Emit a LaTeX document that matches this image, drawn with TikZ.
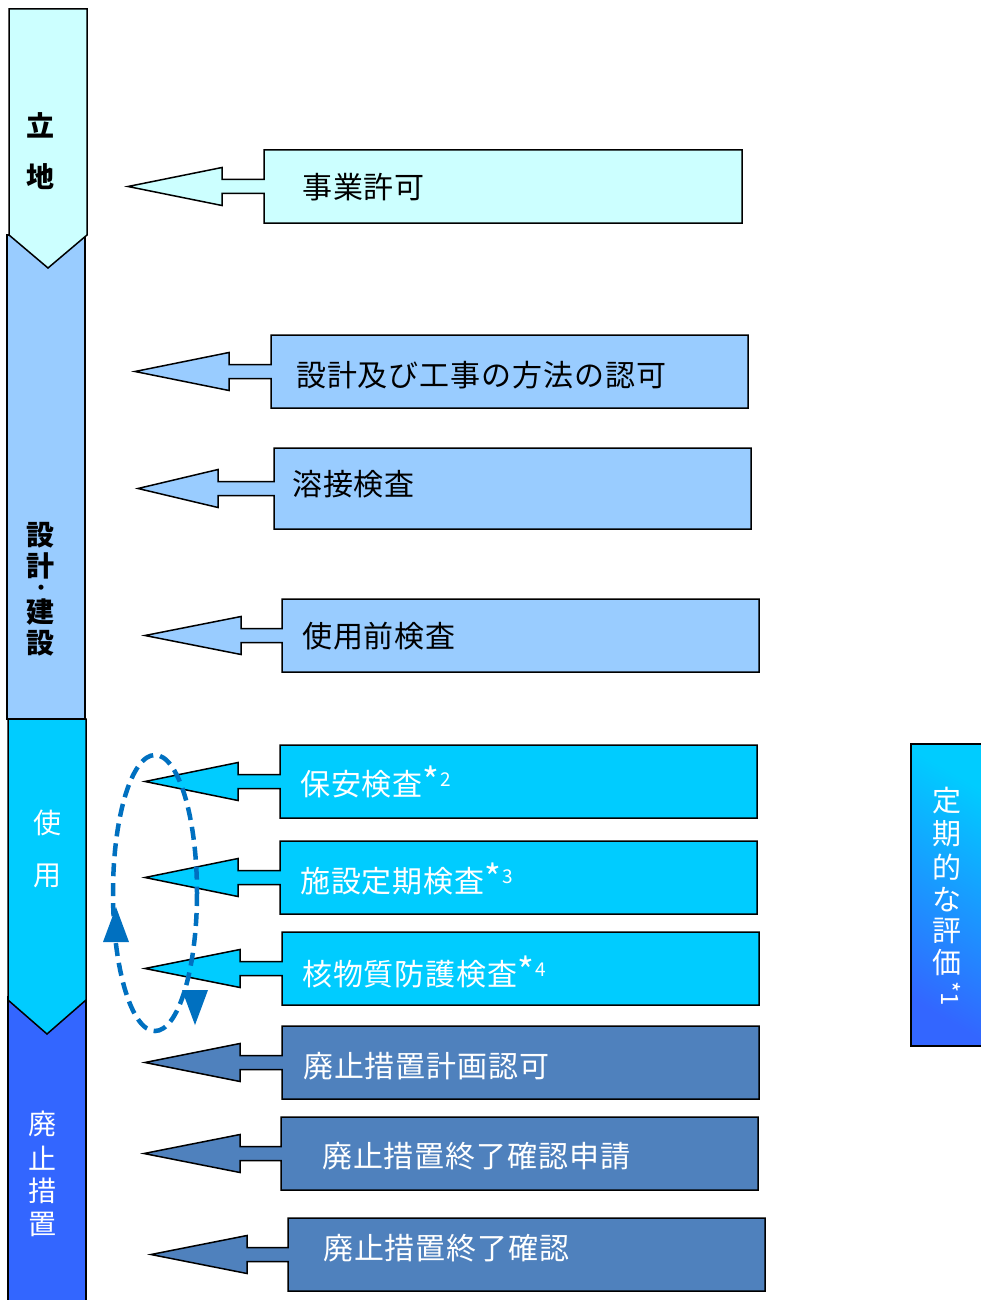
\documentclass[tikz,border=0pt]{standalone}
\usepackage{fontspec}
\setmainfont{Noto Sans CJK JP}
\newfontfamily\lblfont[LetterSpace=3]{Noto Sans CJK JP}
\usepackage{graphicx}
\definecolor{cRitchi}{HTML}{CCFFFF}
\definecolor{cSekkei}{HTML}{99CCFF}
\definecolor{cShiyo}{HTML}{00CCFF}
\definecolor{cHaishi}{HTML}{3366FF}
\definecolor{cHaiArr}{HTML}{4F81BD}
\definecolor{cLoop}{HTML}{0070C0}
\tikzset{
  outl/.style={draw=black, line width=1.5pt, line join=miter},
  lbl/.style={anchor=west, inner sep=0pt, font=\lblfont\fontsize{30}{32}\selectfont},
  stg/.style={inner sep=0pt, font=\fontsize{28}{30}\selectfont},
}
% #1 style, #2 left x, #3 top y, #4 right x, #5 bottom y, #6 tip x, #7 head base x
\newcommand\callout[7]{%
  \draw[outl,#1] (#2,#3) -- (#4,#3) -- (#4,#5) -- (#2,#5)
    -- (#2,{(#3+#5)/2+7}) -- (#7,{(#3+#5)/2+7}) -- (#7,{(#3+#5)/2+19})
    -- (#6,{(#3+#5)/2}) -- (#7,{(#3+#5)/2-19}) -- (#7,{(#3+#5)/2-7})
    -- (#2,{(#3+#5)/2-7}) -- cycle;}
\newcommand\sstar[1]{\raisebox{1pt}{\fontsize{36}{36}\selectfont *}\hspace{1pt}\raisebox{9pt}{\fontsize{19}{19}\selectfont #1}}
\begin{document}
\begin{tikzpicture}[x=1pt,y=-1pt]
\useasboundingbox (0,0) rectangle (980,1300);
\fill[white] (0,0) rectangle (980,1300);
% stage column
\draw[outl, fill=cSekkei] (7,235) rectangle (85,719);
\draw[outl, fill=cRitchi] (9,9) -- (87,9) -- (87,235) -- (48,268) -- (9,235) -- cycle;
\draw[outl, fill=cHaishi] (8,1320) -- (8,997) -- (86,997) -- (86,1320);
\draw[outl, fill=cShiyo] (8,719) -- (86,719) -- (86,1000) -- (47,1034) -- (8,1000) -- cycle;
\node[stg, font=\bfseries\fontsize{28}{30}\selectfont] (r1) at (41,125) {立};
\node[stg, font=\bfseries\fontsize{28}{30}\selectfont] (r2) at (41,177) {地};
\foreach \yy/\ch [count=\i] in {535/設, 566/計, 612/建, 643/設}
  \node[stg, font=\bfseries\fontsize{28}{30}\selectfont] (s\i) at (41,\yy) {\ch};
\node[inner sep=0pt, font=\bfseries\fontsize{18}{18}\selectfont] (sdot) at (41,590) {・};
\node[stg, text=white] (u1) at (47,823) {使};
\node[stg, text=white] (u2) at (47,876) {用};
\foreach \yy/\ch [count=\i] in {1124/廃, 1158/止, 1191/措, 1224/置}
  \node[stg, text=white] (h\i) at (42,\yy) {\ch};
% callouts
\callout{fill=cRitchi}{264}{150}{742}{223}{128}{222}
\callout{fill=cSekkei}{271}{335}{748}{408}{135}{229}
\callout{fill=cSekkei}{274}{448}{751}{529}{138}{218}
\callout{fill=cSekkei}{282}{599}{759}{672}{145}{241}
\callout{fill=cShiyo}{280}{745}{757}{818}{145}{238}
\callout{fill=cShiyo}{280}{841}{757}{914}{145}{238}
\callout{fill=cShiyo}{282}{932}{759}{1005}{145}{240}
\callout{fill=cHaiArr}{282}{1026}{759}{1099}{145}{240}
\callout{fill=cHaiArr}{281}{1117}{758}{1190}{144}{240}
\callout{fill=cHaiArr}{288}{1218}{765}{1291}{151}{247}
\node[lbl] (b1) at (302,187) {事業許可};
\node[lbl] (b2) at (296,375) {設計及び工事の方法の認可};
\node[lbl] (b3) at (292,484) {溶接検査};
\node[lbl] (b4) at (302,636) {使用前検査};
\node[lbl, text=white] (b5) at (300,782) {保安検査\sstar{2}};
\node[lbl, text=white] (b6) at (300,879) {施設定期検査\sstar{3}};
\node[lbl, text=white] (b7) at (302,972) {核物質防護検査\sstar{4}};
\node[lbl, text=white] (b8) at (303,1066) {廃止措置計画認可};
\node[lbl, text=white] (b9) at (322,1156) {廃止措置終了確認申請};
\node[lbl, text=white] (b10) at (323,1248) {廃止措置終了確認};
% periodic evaluation box
\shade[top color=cShiyo, bottom color=cHaishi, shading angle=-30] (911,744) rectangle (985,1046);
\draw[outl] (985,744) -- (911,744) -- (911,1046) -- (985,1046);
\foreach \yy/\ch [count=\i] in {801/定, 834/期, 867/的, 900/な, 931/評, 962/価}
  \node[inner sep=0pt, text=white, font=\fontsize{29}{30}\selectfont] (p\i) at (947,\yy) {\ch};
\node[inner sep=0pt, text=white, font=\fontsize{24}{24}\selectfont] (p7) at (951,994) {\rotatebox{-90}{*1}};
% loop
\draw[cLoop, line width=4.5pt, dash pattern=on 13pt off 7pt] (155,893) ellipse [x radius=42, y radius=138];
\fill[cLoop] (116,907) -- (129,942) -- (103,942) -- cycle;
\fill[cLoop] (195,1025) -- (182,990) -- (208,990) -- cycle;
\end{tikzpicture}
\end{document}
